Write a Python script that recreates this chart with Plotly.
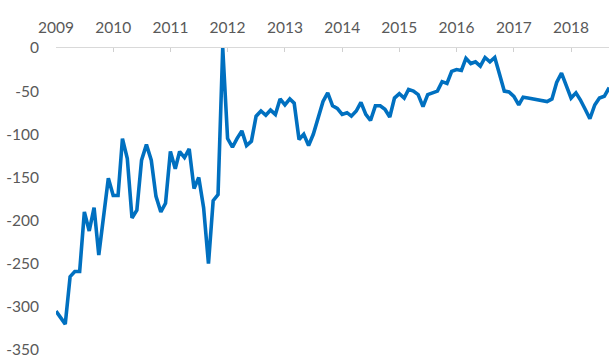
import pandas as pd
import plotly.graph_objects as go

# Monthly series, starting January 2009
start_month = "2009-01-01"
values = [
    -305, -313, -320, -265, -259, -259, -190, -212, -185, -240, -195, -151,
    -171, -171, -105, -128, -197, -188, -130, -112, -130, -172, -190, -180,
    -120, -140, -120, -127, -117, -163, -150, -185, -250, -177, -170, 0,
    -105, -115, -105, -96, -113, -108, -79, -73, -78, -72, -77, -59,
    -66, -59, -64, -106, -100, -113, -100, -80, -62, -52, -67, -70,
    -77, -75, -79, -73, -63, -77, -84, -67, -67, -71, -80, -58,
    -53, -58, -48, -50, -54, -68, -54, -52, -50, -39, -41, -27,
    -25, -26, -12, -18, -16, -21, -11, -16, -11, -30, -50, -51,
    -56, -66, -57, -58, -59, -60, -61, -62, -59, -40, -29, -44,
    -58, -52, -60, -71, -82, -66, -58, -56, -46,
]
y_ticks = [0, -50, -100, -150, -200, -250, -300, -350]

dates = pd.date_range(start_month, periods=len(values), freq="MS")
x_range = ["2009-01-01", "2018-08-31"]

fig = go.Figure(
    go.Scatter(
        x=dates,
        y=values,
        mode="lines",
        line=dict(color="#0070C0", width=3.6),
        hoverinfo="skip",
    )
)

font = dict(family="Lato, 'Open Sans', sans-serif", size=15.5, color="#595959")

year_ticks = dict(
    type="date",
    side="top",
    range=x_range,
    tick0="2009-01-01",
    dtick="M12",
    showgrid=False,
    zeroline=False,
)

fig.update_layout(
    width=609,
    height=358,
    margin=dict(l=56, r=0, t=48, b=6),
    paper_bgcolor="white",
    plot_bgcolor="white",
    showlegend=False,
    font=font,
    # labelled axis: transparent outside ticks set the label gap
    xaxis=dict(
        **year_ticks,
        tickformat="%Y",
        ticks="outside",
        ticklen=8,
        tickcolor="rgba(0,0,0,0)",
        showline=True,
        linecolor="#d9d9d9",
        linewidth=1,
        tickfont=font,
    ),
    # overlay axis: short gray tick marks pointing into the plot
    xaxis2=dict(
        **year_ticks,
        overlaying="x",
        matches="x",
        ticks="inside",
        ticklen=4,
        tickcolor="#d0d0d0",
        showticklabels=False,
        showline=False,
    ),
    yaxis=dict(
        range=[-350, 0],
        tickvals=y_ticks,
        ticktext=[str(v) for v in y_ticks],
        showgrid=False,
        zeroline=False,
        showline=False,
        ticks="",
        ticklabelstandoff=16,
        ticklabeloverflow="allow",
        tickfont=font,
    ),
)

# an empty trace keeps the overlay axis drawn
fig.add_trace(go.Scatter(x=[], y=[], xaxis="x2", hoverinfo="skip"))

fig.write_html("out.html")
